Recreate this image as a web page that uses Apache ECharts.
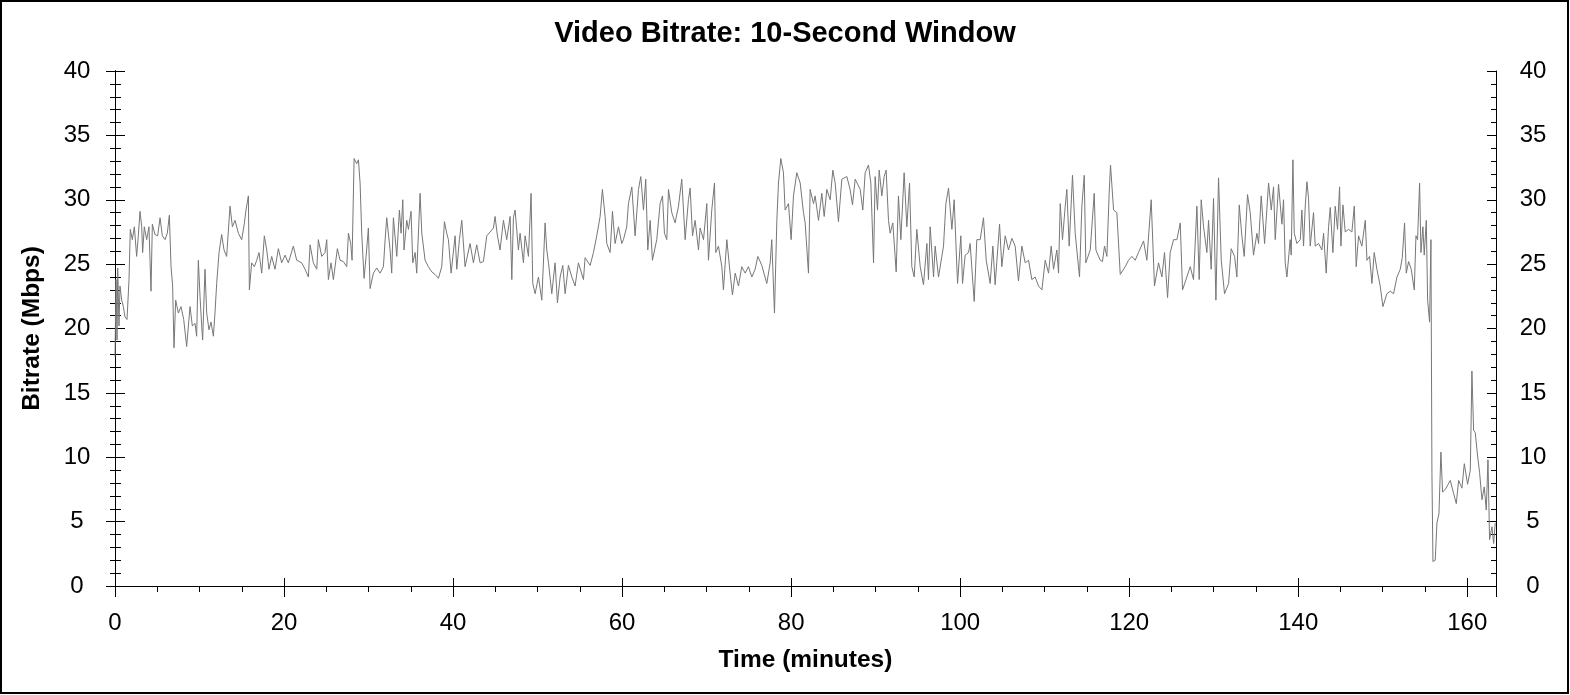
<!DOCTYPE html>
<html>
<head>
<meta charset="utf-8">
<title>Video Bitrate: 10-Second Window</title>
<script src="https://cdn.jsdelivr.net/npm/echarts@6/dist/echarts.min.js"></script>
<style>
  html, body { margin: 0; padding: 0; background: #fff; }
  #main { width: 1570px; height: 695px; }
</style>
</head>
<body>
<div id="main"></div>
<script>
// 数据：时间（分钟）与码率（Mbps）
const minutes = [
  0.0, 0.12, 0.24, 0.32, 0.47, 0.59, 0.79, 0.99, 1.18, 1.42, 1.66, 1.81, 2.05, 2.29, 2.56, 2.76, 2.96, 3.16, 3.27, 3.47,
  3.75, 4.02, 4.26, 4.42, 4.73, 5.05, 5.33, 5.6, 5.92, 6.19, 6.43, 6.63, 6.82, 6.98, 7.18, 7.5, 7.81, 8.13, 8.48, 8.68,
  8.88, 9.15, 9.47, 9.66, 9.86, 10.06, 10.26, 10.37, 10.65, 10.85, 11.12, 11.36, 11.64, 11.83, 12.03, 12.31, 12.62, 12.9, 13.21, 13.61,
  13.89, 14.2, 14.6, 14.99, 15.31, 15.5, 15.78, 15.9, 16.17, 16.49, 16.77, 17.04, 17.36, 17.67, 17.95, 18.22, 18.54, 18.93, 19.33, 19.72,
  20.12, 20.51, 21.1, 21.5, 22.09, 22.49, 22.88, 23.08, 23.47, 23.87, 24.06, 24.46, 24.85, 25.05, 25.25, 25.56, 25.84, 26.31, 26.63, 27.02,
  27.42, 27.62, 27.89, 28.05, 28.29, 28.6, 28.8, 29.0, 29.19, 29.47, 29.71, 29.98, 30.18, 30.57, 30.97, 31.36, 31.76, 31.96, 32.15, 32.55,
  32.74, 32.94, 33.34, 33.65, 33.85, 34.05, 34.2, 34.52, 34.72, 35.03, 35.23, 35.51, 35.7, 36.1, 36.3, 36.69, 37.08, 37.48, 37.87, 38.27,
  38.66, 38.98, 39.25, 39.45, 39.77, 40.24, 40.44, 40.75, 41.03, 41.42, 42.01, 42.41, 42.8, 43.2, 43.59, 43.99, 44.38, 44.78, 44.97, 45.25,
  45.56, 45.96, 46.35, 46.75, 46.95, 47.14, 47.34, 47.73, 47.93, 48.33, 48.52, 48.92, 49.23, 49.43, 49.71, 50.1, 50.5, 50.89, 51.09, 51.29,
  51.68, 52.07, 52.35, 52.67, 52.98, 53.26, 53.65, 54.05, 54.44, 54.83, 55.43, 55.62, 56.22, 56.61, 57.0, 57.4, 57.67, 57.99, 58.19, 58.58,
  58.86, 59.17, 59.57, 59.96, 60.16, 60.55, 60.75, 61.15, 61.54, 61.94, 62.21, 62.53, 62.8, 63.04, 63.32, 63.59, 64.1, 64.5, 64.78, 65.01,
  65.29, 65.49, 65.88, 66.27, 66.67, 67.06, 67.46, 67.85, 68.05, 68.33, 68.64, 69.04, 69.23, 69.63, 70.02, 70.22, 70.61, 70.93, 71.09, 71.4,
  71.8, 71.99, 72.39, 72.78, 73.06, 73.38, 73.77, 74.16, 74.56, 74.95, 75.35, 75.74, 76.06, 76.53, 77.12, 77.52, 77.71, 78.03, 78.31, 78.5,
  78.78, 79.09, 79.29, 79.69, 80.0, 80.28, 80.67, 81.07, 81.46, 81.66, 82.05, 82.25, 82.65, 82.84, 83.24, 83.63, 83.91, 84.22, 84.62, 84.93,
  85.21, 85.6, 86.0, 86.59, 86.98, 87.26, 87.58, 88.17, 88.48, 88.76, 89.15, 89.43, 89.75, 89.94, 90.22, 90.42, 90.73, 91.01, 91.24, 91.52,
  91.72, 92.03, 92.43, 92.7, 92.98, 93.37, 93.69, 94.01, 94.28, 94.56, 94.87, 95.27, 95.66, 96.06, 96.25, 96.45, 96.85, 97.04, 97.44, 97.83,
  98.03, 98.31, 98.62, 99.02, 99.29, 99.69, 100.08, 100.28, 100.59, 100.99, 101.18, 101.66, 101.97, 102.37, 102.76, 103.08, 103.55, 103.87, 104.14, 104.66,
  104.93, 105.33, 105.72, 106.12, 106.51, 106.9, 107.3, 107.69, 108.09, 108.48, 108.88, 109.27, 109.67, 110.06, 110.46, 110.77, 111.05, 111.44, 111.64, 111.84,
  112.11, 112.43, 112.62, 112.9, 113.29, 113.61, 114.0, 114.12, 114.4, 114.68, 114.87, 115.39, 115.86, 116.06, 116.57, 116.84, 117.08, 117.36, 117.63, 117.79,
  118.15, 118.54, 118.94, 119.53, 119.92, 120.32, 120.71, 121.1, 121.7, 122.09, 122.6, 122.99, 123.47, 123.87, 124.18, 124.54, 124.85, 125.25, 125.64, 126.04,
  126.31, 126.82, 127.22, 127.61, 128.01, 128.28, 128.52, 128.8, 129.19, 129.39, 129.7, 129.98, 130.26, 130.57, 130.89, 131.28, 131.76, 132.07, 132.47, 132.74,
  133.02, 133.33, 133.61, 134.0, 134.32, 134.71, 135.11, 135.31, 135.62, 136.02, 136.49, 136.81, 137.08, 137.28, 137.67, 138.07, 138.26, 138.46, 138.66, 139.05,
  139.17, 139.37, 139.53, 139.84, 140.24, 140.43, 140.63, 140.83, 141.03, 141.22, 141.42, 141.81, 142.01, 142.41, 142.8, 143.0, 143.31, 143.59, 143.79, 144.1,
  144.38, 144.65, 144.89, 145.05, 145.29, 145.56, 145.96, 146.35, 146.63, 146.86, 147.14, 147.53, 147.93, 148.13, 148.44, 148.72, 148.99, 149.31, 149.7, 150.02,
  150.49, 150.89, 151.28, 151.68, 152.07, 152.31, 152.58, 152.78, 153.06, 153.37, 153.73, 153.93, 154.12, 154.36, 154.52, 154.75, 154.91, 155.15, 155.31, 155.54,
  155.7, 155.82, 155.94, 156.21, 156.41, 156.65, 156.88, 157.08, 157.4, 157.99, 158.38, 158.7, 158.98, 159.37, 159.65, 160.04, 160.36, 160.55, 160.75, 160.95,
  161.22, 161.46, 161.74, 162.01, 162.25, 162.45, 162.64, 162.92, 163.12, 163.31
];
const bitrate = [
  17.8, 23.8, 19.1, 24.7, 20.2, 23.3, 22.2, 21.7, 20.9, 20.7, 23.8, 27.7, 26.9, 27.9, 25.6, 27.2, 29.1, 27.9, 25.9, 27.9,
  26.9, 27.9, 22.9, 28.1, 27.3, 27.2, 28.6, 27.2, 26.9, 27.4, 28.8, 24.8, 23.3, 18.5, 22.2, 21.2, 21.7, 20.7, 18.6, 20.2,
  21.7, 20.2, 20.4, 19.4, 25.3, 22.5, 20.2, 19.1, 24.6, 21.2, 19.9, 20.5, 19.4, 21.2, 23.5, 25.9, 27.3, 26.1, 25.6, 29.5,
  27.9, 28.4, 27.4, 26.9, 28.2, 29.2, 30.3, 23.0, 25.1, 24.8, 25.3, 25.9, 24.3, 27.2, 26.1, 24.6, 25.6, 24.6, 26.2, 25.1,
  25.7, 25.1, 26.4, 25.3, 25.1, 24.6, 24.0, 26.5, 25.1, 24.6, 26.9, 25.6, 25.9, 26.9, 23.8, 25.1, 23.8, 26.2, 25.3, 25.2,
  24.8, 27.4, 26.6, 25.3, 33.2, 32.8, 33.1, 31.3, 27.4, 23.9, 25.6, 27.8, 23.1, 24.3, 24.7, 24.3, 24.8, 26.9, 28.6, 26.1,
  24.3, 28.6, 25.6, 29.2, 27.4, 30.0, 26.1, 28.4, 27.7, 29.1, 25.1, 25.9, 24.3, 30.5, 27.4, 25.3, 24.8, 24.4, 24.2, 23.9,
  24.8, 28.3, 27.4, 26.9, 24.3, 27.2, 24.6, 26.9, 28.4, 24.8, 26.6, 25.1, 26.5, 25.1, 25.2, 27.2, 27.5, 27.8, 28.7, 27.2,
  26.1, 28.4, 26.9, 28.7, 23.8, 28.6, 29.2, 26.1, 27.4, 25.1, 27.2, 25.6, 30.5, 23.5, 22.7, 24.0, 22.2, 28.2, 26.1, 25.1,
  22.7, 25.1, 22.0, 24.0, 24.9, 22.7, 24.9, 24.0, 23.3, 25.1, 23.8, 25.5, 24.9, 25.9, 27.2, 28.7, 30.8, 28.7, 26.6, 25.9,
  29.1, 26.6, 27.9, 26.6, 26.9, 27.9, 29.7, 31.0, 27.2, 30.8, 31.8, 29.2, 31.6, 26.1, 28.4, 25.3, 26.9, 29.7, 30.3, 27.4,
  26.9, 30.8, 29.0, 28.2, 29.5, 31.6, 26.9, 30.0, 30.9, 27.2, 28.4, 26.1, 27.8, 26.9, 29.7, 25.3, 29.2, 31.3, 25.9, 26.4,
  24.8, 23.0, 26.9, 24.3, 22.6, 24.3, 23.3, 24.8, 24.3, 24.8, 24.0, 24.6, 25.6, 24.9, 23.5, 25.1, 26.9, 21.2, 28.4, 31.3,
  33.2, 32.1, 29.2, 29.7, 26.9, 30.3, 32.1, 31.3, 29.0, 28.2, 24.3, 30.8, 29.7, 30.3, 28.4, 30.5, 28.7, 30.8, 30.0, 32.3,
  31.3, 28.3, 31.6, 31.8, 30.8, 29.6, 31.6, 30.8, 29.2, 32.1, 32.7, 31.3, 25.1, 31.8, 29.2, 32.3, 30.3, 31.8, 32.3, 28.4,
  27.4, 28.2, 24.4, 30.3, 26.9, 32.1, 27.9, 31.3, 24.8, 24.0, 27.7, 24.8, 23.4, 26.6, 23.8, 27.9, 24.0, 26.4, 24.0, 25.6,
  26.4, 29.7, 30.9, 27.7, 30.0, 23.5, 27.2, 23.5, 25.7, 25.9, 26.6, 22.1, 26.9, 26.9, 28.6, 25.3, 23.5, 26.4, 23.4, 28.1,
  24.8, 27.2, 26.1, 27.0, 26.4, 23.7, 26.4, 25.1, 25.3, 23.8, 24.0, 23.3, 23.0, 25.3, 24.3, 26.4, 24.6, 26.1, 24.3, 29.7,
  26.9, 29.5, 30.8, 26.4, 31.9, 27.4, 24.8, 24.0, 29.5, 31.9, 25.1, 26.1, 30.5, 26.1, 25.3, 25.2, 26.4, 25.6, 30.5, 32.7,
  29.2, 29.0, 24.2, 24.8, 25.3, 25.6, 25.3, 25.9, 26.8, 25.3, 30.0, 23.3, 25.1, 24.0, 25.9, 22.4, 25.9, 26.9, 26.9, 28.2,
  23.0, 24.0, 24.8, 23.8, 29.5, 23.8, 30.0, 27.9, 25.9, 28.4, 24.6, 30.1, 22.2, 31.7, 25.3, 22.7, 23.5, 26.2, 25.6, 24.0,
  29.6, 27.2, 25.6, 30.4, 29.0, 25.7, 27.4, 26.6, 30.3, 26.6, 31.3, 29.2, 31.0, 26.9, 31.2, 28.1, 30.0, 25.1, 24.0, 26.9,
  25.7, 33.1, 27.4, 26.6, 26.9, 29.2, 26.4, 29.5, 31.4, 30.1, 26.4, 29.0, 26.4, 26.6, 26.1, 27.4, 24.3, 27.9, 29.4, 25.9,
  29.5, 27.7, 31.0, 26.4, 29.6, 27.5, 27.7, 27.5, 29.5, 24.8, 27.2, 26.4, 28.4, 25.3, 25.6, 23.5, 25.9, 24.6, 23.3, 21.7,
  22.7, 22.9, 22.7, 24.0, 24.6, 25.5, 28.2, 24.3, 25.2, 24.6, 23.0, 27.2, 26.9, 31.3, 25.9, 27.9, 25.7, 28.4, 22.2, 20.5,
  26.9, 8.8, 1.9, 2.0, 4.9, 5.6, 10.4, 7.3, 7.5, 8.2, 7.2, 6.4, 8.2, 7.6, 9.5, 7.9, 9.0, 16.7, 12.1, 11.9,
  10.1, 8.8, 6.7, 7.7, 5.9, 9.8, 3.6, 4.6, 3.3, 4.9
];
const xTicks = { min: 0, max: 163.4, interval: 20 };
const yTicks = { min: 0, max: 40, interval: 5 };

const points = minutes.map((t, i) => [t, bitrate[i]]);

const font = 'Liberation Sans, Arial, sans-serif';
const axisLine = { show: true, lineStyle: { color: '#000', width: 1 } };

var myChart = echarts.init(document.getElementById('main'), null, { renderer: 'canvas' });

var option = {
  animation: false,
  backgroundColor: '#fff',
  title: {
    text: 'Video Bitrate: 10-Second Window',
    left: 'center',
    top: 14,
    textStyle: { fontFamily: font, fontSize: 29, fontWeight: 'bold', color: '#000' }
  },
  graphic: [{
    type: 'rect',
    shape: { x: 1, y: 1, width: 1567, height: 692 },
    style: { fill: 'none', stroke: '#000', lineWidth: 2 },
    silent: true
  }],
  grid: { left: 115, right: 74, top: 71, bottom: 109, containLabel: false, outerBoundsMode: 'none' },
  xAxis: [
    { // 底部：外侧刻度与标签
      type: 'value', position: 'bottom',
      min: xTicks.min, max: xTicks.max, interval: xTicks.interval,
      axisLine: axisLine,
      axisTick: { show: true, inside: false, length: 11, lineStyle: { color: '#000' } },
      minorTick: { show: true, splitNumber: 4, length: 6, lineStyle: { color: '#000' } },
      axisLabel: { margin: 25, fontSize: 24, fontFamily: font, color: '#000', showMaxLabel: false },
      splitLine: { show: false },
      name: 'Time (minutes)', nameLocation: 'middle', nameGap: 62,
      nameTextStyle: { fontFamily: font, fontSize: 24.5, fontWeight: 'bold', color: '#000' }
    },
    { // 底部：内侧主刻度
      type: 'value', position: 'bottom',
      min: xTicks.min, max: xTicks.max, interval: xTicks.interval,
      axisLine: axisLine,
      axisTick: { show: true, inside: true, length: 8, lineStyle: { color: '#000' } },
      axisLabel: { show: false }, splitLine: { show: false }
    },
    { // 顶部
      type: 'value', position: 'top',
      min: xTicks.min, max: xTicks.max, interval: xTicks.interval,
      axisLine: axisLine,
      axisTick: { show: true, inside: true, length: 10, lineStyle: { color: '#000' } },
      minorTick: { show: true, splitNumber: 4, length: 5, lineStyle: { color: '#000' } },
      axisLabel: { show: false }, splitLine: { show: false }
    }
  ],
  yAxis: [
    { // 左侧：外侧刻度与标签
      type: 'value', position: 'left',
      min: yTicks.min, max: yTicks.max, interval: yTicks.interval,
      axisLine: axisLine,
      axisTick: { show: true, inside: false, length: 9, lineStyle: { color: '#000' } },
      minorTick: { show: true, splitNumber: 5, length: 5, lineStyle: { color: '#000' } },
      axisLabel: { margin: 38, align: 'center', fontSize: 24, fontFamily: font, color: '#000' },
      splitLine: { show: false },
      name: 'Bitrate (Mbps)', nameLocation: 'middle', nameGap: 70, nameRotate: 90,
      nameTextStyle: { fontFamily: font, fontSize: 24.5, fontWeight: 'bold', color: '#000' }
    },
    { // 左侧：内侧刻度
      type: 'value', position: 'left',
      min: yTicks.min, max: yTicks.max, interval: yTicks.interval,
      axisLine: axisLine,
      axisTick: { show: true, inside: true, length: 9, lineStyle: { color: '#000' } },
      minorTick: { show: true, splitNumber: 5, length: 5, lineStyle: { color: '#000' } },
      axisLabel: { show: false }, splitLine: { show: false }
    },
    { // 右侧：外侧刻度与标签
      type: 'value', position: 'right',
      min: yTicks.min, max: yTicks.max, interval: yTicks.interval,
      axisLine: axisLine,
      axisTick: { show: true, inside: false, length: 10, lineStyle: { color: '#000' } },
      minorTick: { show: true, splitNumber: 5, length: 6, lineStyle: { color: '#000' } },
      axisLabel: { margin: 37, align: 'center', fontSize: 24, fontFamily: font, color: '#000' },
      splitLine: { show: false }
    },
    { // 右侧：内侧刻度
      type: 'value', position: 'right',
      min: yTicks.min, max: yTicks.max, interval: yTicks.interval,
      axisLine: axisLine,
      axisTick: { show: true, inside: true, length: 9, lineStyle: { color: '#000' } },
      minorTick: { show: true, splitNumber: 5, length: 5, lineStyle: { color: '#000' } },
      axisLabel: { show: false }, splitLine: { show: false }
    }
  ],
  series: [{
    type: 'line',
    xAxisIndex: 0,
    yAxisIndex: 0,
    data: points,
    showSymbol: false,
    lineStyle: { color: '#777777', width: 1 },
    silent: true
  }]
};

myChart.setOption(option);
</script>
</body>
</html>
